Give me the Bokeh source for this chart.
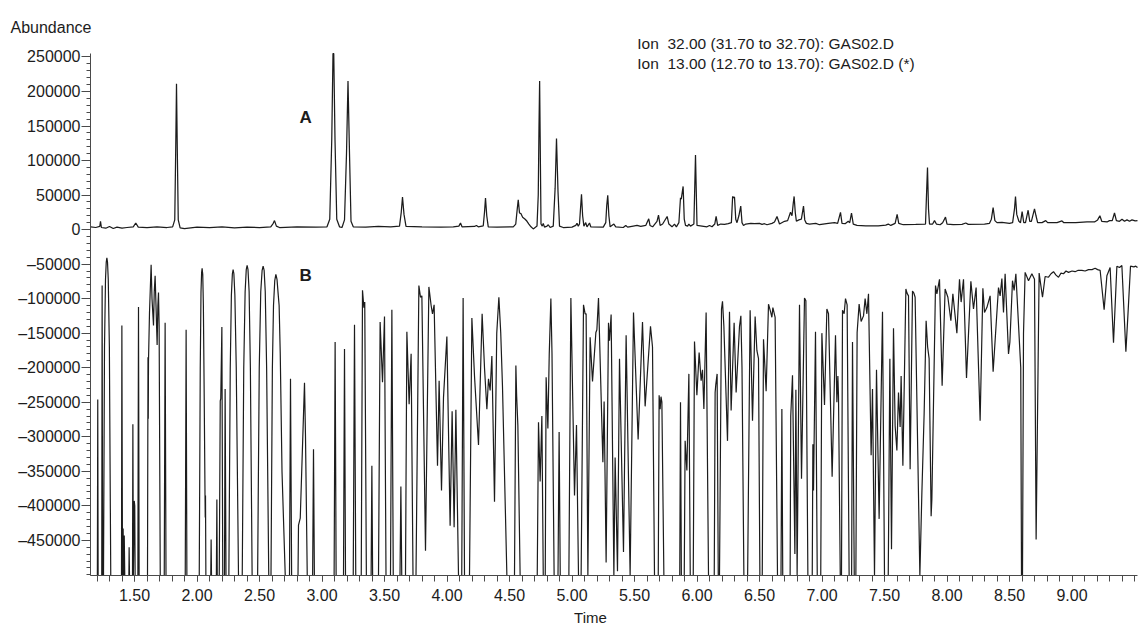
from bokeh.plotting import figure
from bokeh.models import Range1d, FixedTicker, CustomJSTickFormatter, PrintfTickFormatter, Label
from bokeh.embed import file_html
from bokeh.resources import INLINE

# ---------------- data ----------------
# Trace A : Ion 32.00, (time [min], abundance)
trace_a = [
    (1.150, 4000), (1.190, 3000), (1.222, 4500), (1.228, 12000), (1.235, 3000),
    (1.270, 2000), (1.300, 4500), (1.330, 1500), (1.360, 3500), (1.400, 2000),
    (1.440, 3000), (1.490, 4000), (1.510, 9500), (1.530, 3500), (1.600, 3000),
    (1.680, 4000), (1.760, 3000), (1.805, 4000), (1.822, 14000), (1.830, 120000),
    (1.836, 211000), (1.842, 120000), (1.850, 14000), (1.865, 2500), (1.900, 1500),
    (2.000, 3500), (2.100, 3000), (2.200, 4000), (2.300, 2500), (2.400, 3500),
    (2.500, 3000), (2.590, 4000), (2.610, 9000), (2.620, 13000), (2.635, 5000),
    (2.660, 3000), (2.800, 4000), (2.950, 3500), (3.040, 4000), (3.062, 15000),
    (3.078, 130000), (3.088, 255000), (3.094, 255000), (3.104, 130000), (3.118, 15000),
    (3.140, 4000), (3.160, 3000), (3.180, 14000), (3.196, 110000), (3.208, 215000),
    (3.220, 110000), (3.232, 12000), (3.250, 4000), (3.350, 3500), (3.450, 4500),
    (3.550, 4000), (3.620, 5000), (3.634, 25000), (3.644, 47000), (3.656, 22000),
    (3.672, 4500), (3.800, 4000), (3.950, 3500), (4.050, 4000), (4.095, 5000),
    (4.108, 9500), (4.120, 4000), (4.220, 4500), (4.235, 6000), (4.250, 4000),
    (4.290, 5500), (4.300, 25000), (4.308, 45500), (4.318, 20000), (4.330, 4000),
    (4.400, 3500), (4.530, 4000), (4.550, 8000), (4.562, 30000), (4.570, 43000),
    (4.580, 24000), (4.592, 23000), (4.605, 18000), (4.625, 15000), (4.640, 12000),
    (4.655, 8000), (4.672, 4000), (4.690, 1000), (4.720, 5000), (4.730, 50000),
    (4.736, 150000), (4.741, 215000), (4.747, 100000), (4.752, 8000), (4.762, 5000),
    (4.770, 9000), (4.780, 3500), (4.800, 5000), (4.810, 7000), (4.825, 3000),
    (4.850, 5000), (4.865, 60000), (4.876, 132000), (4.888, 55000), (4.900, 5000),
    (4.930, 3000), (5.000, 3500), (5.030, 6000), (5.040, 9000), (5.050, 5000),
    (5.060, 8000), (5.068, 30000), (5.076, 51000), (5.085, 20000), (5.095, 5000),
    (5.110, 10000), (5.120, 4000), (5.140, 9500), (5.150, 4000), (5.250, 3500),
    (5.270, 10000), (5.278, 35000), (5.286, 49500), (5.295, 20000), (5.305, 4000),
    (5.335, 8000), (5.350, 4000), (5.410, 3000), (5.430, 6000), (5.445, 3500),
    (5.490, 5000), (5.520, 6000), (5.550, 4500), (5.590, 6000), (5.605, 12000),
    (5.614, 15500), (5.624, 6000), (5.645, 4000), (5.680, 12000), (5.692, 21000),
    (5.705, 6000), (5.725, 8000), (5.748, 15000), (5.761, 19000), (5.775, 8000),
    (5.800, 4000), (5.820, 8000), (5.835, 4000), (5.855, 10000), (5.868, 46000),
    (5.874, 44000), (5.889, 62500), (5.898, 15000), (5.908, 6000), (5.925, 5000),
    (5.935, 8000), (5.948, 5000), (5.975, 8000), (5.988, 108000), (6.000, 6000),
    (6.040, 5000), (6.080, 4000), (6.100, 6000), (6.120, 4000), (6.142, 8000),
    (6.153, 19000), (6.165, 6000), (6.190, 8000), (6.220, 7500), (6.250, 8500),
    (6.275, 10000), (6.285, 48000), (6.292, 46000), (6.300, 47000), (6.310, 15000),
    (6.320, 10000), (6.335, 20000), (6.350, 34000), (6.360, 10000), (6.372, 6000),
    (6.390, 8000), (6.430, 9000), (6.460, 8500), (6.500, 9000), (6.520, 7500),
    (6.540, 8500), (6.560, 7000), (6.600, 9000), (6.620, 11000), (6.640, 19000),
    (6.660, 8000), (6.700, 12000), (6.725, 13000), (6.748, 25000), (6.760, 20000),
    (6.770, 38000), (6.777, 48000), (6.786, 25000), (6.795, 12000), (6.815, 14000),
    (6.835, 15000), (6.852, 34000), (6.862, 14000), (6.875, 9000), (6.900, 8000),
    (6.950, 9000), (6.980, 7000), (7.050, 9000), (7.100, 10000), (7.125, 9000),
    (7.148, 25000), (7.160, 9000), (7.185, 8500), (7.210, 12000), (7.222, 10000),
    (7.236, 24000), (7.250, 8000), (7.280, 6000), (7.350, 5500), (7.450, 5500),
    (7.510, 6500), (7.530, 8000), (7.550, 6000), (7.585, 9000), (7.601, 22000),
    (7.614, 9000), (7.650, 7000), (7.750, 7500), (7.828, 8000), (7.838, 60000),
    (7.844, 90000), (7.852, 30000), (7.860, 8000), (7.885, 8000), (7.900, 13000),
    (7.915, 8000), (7.945, 7000), (7.965, 10000), (7.988, 18000), (8.000, 8000),
    (8.050, 7000), (8.120, 7500), (8.150, 9500), (8.170, 7500), (8.300, 8000),
    (8.340, 9000), (8.355, 15000), (8.369, 32000), (8.383, 13000), (8.400, 10000),
    (8.440, 10500), (8.500, 9000), (8.525, 10000), (8.540, 30000), (8.548, 48000),
    (8.558, 22000), (8.575, 12000), (8.588, 10000), (8.601, 26000), (8.614, 10000),
    (8.628, 10000), (8.649, 28000), (8.662, 12000), (8.675, 12000), (8.700, 30000),
    (8.712, 20000), (8.725, 10000), (8.760, 10000), (8.790, 13000), (8.805, 10000),
    (8.880, 10000), (8.920, 12500), (8.935, 10000), (9.030, 10000), (9.120, 11000),
    (9.180, 11000), (9.205, 14000), (9.223, 20000), (9.238, 12000), (9.280, 11000),
    (9.300, 13000), (9.322, 13000), (9.340, 24000), (9.355, 13000), (9.380, 12000),
    (9.400, 15000), (9.420, 12000), (9.440, 14000), (9.460, 12000), (9.480, 14000),
    (9.505, 12500), (9.524, 13000),
]

# Trace B : Ion 13.00 (*), (time [min], abundance); -501000 = off the bottom of the scale
trace_b = [
    (1.150, -501000), (1.203, -501000), (1.206, -246000), (1.209, -501000),
    (1.238, -501000), (1.241, -81000), (1.245, -501000), (1.252, -501000),
    (1.260, -170000), (1.268, -72000), (1.274, -47000), (1.279, -41000),
    (1.284, -47000), (1.290, -72000), (1.299, -170000), (1.310, -501000),
    (1.396, -501000), (1.399, -139000), (1.404, -501000), (1.409, -433000),
    (1.413, -501000), (1.418, -443000), (1.422, -501000), (1.455, -501000),
    (1.457, -460000), (1.460, -501000), (1.484, -501000), (1.487, -282000),
    (1.491, -501000), (1.498, -393000), (1.502, -400000), (1.505, -501000),
    (1.527, -501000), (1.532, -112000), (1.537, -501000), (1.604, -501000),
    (1.608, -185000), (1.610, -274000), (1.612, -190000), (1.620, -120000),
    (1.633, -51000), (1.640, -100000), (1.652, -139000), (1.658, -90000),
    (1.665, -67000), (1.672, -110000), (1.681, -167000), (1.687, -110000),
    (1.692, -91000), (1.697, -140000), (1.706, -501000), (1.738, -501000),
    (1.745, -135000), (1.752, -501000), (1.906, -501000), (1.913, -145000),
    (1.919, -501000), (2.018, -501000), (2.026, -200000), (2.032, -90000),
    (2.037, -62000), (2.041, -56000), (2.046, -65000), (2.051, -110000),
    (2.058, -250000), (2.064, -383000), (2.066, -417000), (2.068, -385000),
    (2.071, -501000), (2.110, -501000), (2.113, -449000), (2.116, -501000),
    (2.155, -501000), (2.159, -391000), (2.162, -501000), (2.178, -501000),
    (2.186, -248000), (2.190, -245000), (2.199, -141000), (2.206, -501000),
    (2.220, -501000), (2.225, -231000), (2.232, -501000), (2.255, -501000),
    (2.266, -200000), (2.275, -95000), (2.283, -64000), (2.289, -58000),
    (2.295, -64000), (2.303, -95000), (2.314, -200000), (2.332, -501000),
    (2.362, -501000), (2.374, -200000), (2.385, -90000), (2.394, -58000),
    (2.401, -52000), (2.408, -58000), (2.417, -90000), (2.427, -200000),
    (2.441, -501000), (2.485, -501000), (2.498, -200000), (2.510, -90000),
    (2.521, -59000), (2.529, -53000), (2.537, -59000), (2.546, -90000),
    (2.557, -200000), (2.574, -501000), (2.592, -501000), (2.603, -200000),
    (2.612, -110000), (2.622, -74000), (2.631, -65000), (2.640, -72000),
    (2.650, -95000), (2.657, -110000), (2.666, -180000), (2.680, -350000),
    (2.706, -501000), (2.740, -501000), (2.748, -216000), (2.757, -501000),
    (2.808, -501000), (2.812, -428000), (2.826, -418000), (2.860, -222000),
    (2.868, -300000), (2.882, -501000), (2.925, -501000), (2.932, -318000),
    (2.939, -501000), (3.097, -501000), (3.105, -163000), (3.113, -501000),
    (3.172, -501000), (3.180, -173000), (3.188, -501000), (3.250, -501000),
    (3.260, -138000), (3.270, -501000), (3.314, -501000), (3.324, -88000),
    (3.335, -113000), (3.342, -105000), (3.355, -501000), (3.393, -501000),
    (3.399, -342000), (3.405, -501000), (3.452, -501000), (3.465, -134000),
    (3.484, -221000), (3.500, -126000), (3.512, -501000), (3.548, -501000),
    (3.559, -116000), (3.570, -501000), (3.624, -501000), (3.631, -372000),
    (3.638, -501000), (3.668, -501000), (3.679, -148000), (3.697, -253000),
    (3.713, -180000), (3.728, -501000), (3.752, -501000), (3.775, -81000),
    (3.788, -98000), (3.799, -96000), (3.828, -465000), (3.855, -83000),
    (3.873, -110000), (3.884, -122000), (3.897, -109000), (3.924, -342000),
    (3.937, -219000), (3.956, -378000), (3.972, -243000), (3.999, -155000),
    (4.025, -429000), (4.041, -263000), (4.057, -431000), (4.071, -261000),
    (4.092, -501000), (4.118, -501000), (4.129, -99000), (4.140, -501000),
    (4.180, -501000), (4.199, -128000), (4.220, -212000), (4.252, -312000),
    (4.281, -122000), (4.300, -200000), (4.319, -260000), (4.332, -216000),
    (4.345, -233000), (4.359, -183000), (4.380, -394000), (4.398, -150000),
    (4.415, -98000), (4.430, -150000), (4.444, -228000), (4.479, -501000),
    (4.540, -501000), (4.551, -197000), (4.557, -240000), (4.567, -284000),
    (4.585, -501000), (4.722, -501000), (4.732, -279000), (4.745, -365000),
    (4.759, -270000), (4.770, -501000), (4.786, -501000), (4.793, -214000),
    (4.807, -288000), (4.818, -180000), (4.831, -100000), (4.840, -180000),
    (4.857, -501000), (4.888, -501000), (4.897, -293000), (4.906, -501000),
    (4.975, -501000), (4.991, -99000), (5.020, -385000), (5.036, -283000),
    (5.052, -501000), (5.073, -501000), (5.092, -109000), (5.105, -122000),
    (5.113, -122000), (5.127, -501000), (5.145, -156000), (5.164, -220000),
    (5.191, -149000), (5.199, -145000), (5.212, -99000), (5.247, -337000),
    (5.257, -249000), (5.273, -482000), (5.292, -135000), (5.300, -161000),
    (5.313, -123000), (5.335, -501000), (5.345, -330000), (5.364, -495000),
    (5.380, -187000), (5.412, -467000), (5.433, -153000), (5.465, -501000),
    (5.492, -120000), (5.529, -304000), (5.564, -134000), (5.585, -256000),
    (5.628, -140000), (5.644, -170000), (5.660, -501000), (5.690, -501000),
    (5.697, -240000), (5.705, -260000), (5.712, -242000), (5.719, -250000),
    (5.735, -501000), (5.862, -501000), (5.868, -250000), (5.875, -501000),
    (5.898, -501000), (5.905, -306000), (5.919, -349000), (5.935, -209000),
    (5.946, -501000), (5.970, -501000), (5.980, -162000), (5.999, -240000),
    (6.017, -178000), (6.033, -219000), (6.044, -203000), (6.055, -260000),
    (6.073, -120000), (6.092, -501000), (6.138, -501000), (6.145, -236000),
    (6.150, -225000), (6.161, -209000), (6.170, -501000), (6.180, -501000),
    (6.196, -115000), (6.204, -104000), (6.215, -140000), (6.244, -306000),
    (6.260, -119000), (6.273, -262000), (6.297, -135000), (6.313, -236000),
    (6.340, -140000), (6.351, -125000), (6.360, -200000), (6.375, -501000),
    (6.405, -501000), (6.425, -117000), (6.444, -277000), (6.465, -126000),
    (6.479, -175000), (6.492, -187000), (6.503, -501000), (6.522, -501000),
    (6.532, -159000), (6.553, -234000), (6.572, -108000), (6.590, -120000),
    (6.599, -127000), (6.607, -113000), (6.625, -127000), (6.644, -501000),
    (6.672, -501000), (6.679, -260000), (6.686, -501000), (6.745, -501000),
    (6.750, -270000), (6.764, -211000), (6.783, -470000), (6.791, -232000),
    (6.801, -501000), (6.820, -109000), (6.836, -361000), (6.860, -99000),
    (6.871, -103000), (6.887, -501000), (6.922, -501000), (6.927, -311000),
    (6.932, -378000), (6.948, -148000), (6.962, -501000), (6.990, -501000),
    (6.999, -150000), (7.020, -254000), (7.039, -115000), (7.052, -122000),
    (7.081, -358000), (7.108, -153000), (7.119, -250000), (7.127, -212000),
    (7.132, -241000), (7.146, -501000), (7.156, -501000), (7.164, -117000),
    (7.177, -122000), (7.188, -100000), (7.201, -109000), (7.217, -501000),
    (7.237, -501000), (7.244, -163000), (7.258, -501000), (7.271, -501000),
    (7.281, -149000), (7.297, -108000), (7.313, -133000), (7.332, -125000),
    (7.345, -100000), (7.359, -122000), (7.372, -93000), (7.393, -327000),
    (7.404, -231000), (7.420, -501000), (7.436, -203000), (7.457, -419000),
    (7.484, -119000), (7.500, -501000), (7.530, -501000), (7.543, -187000),
    (7.556, -463000), (7.572, -143000), (7.585, -284000), (7.599, -320000),
    (7.612, -236000), (7.625, -286000), (7.633, -212000), (7.647, -342000),
    (7.671, -86000), (7.680, -92000), (7.692, -96000), (7.705, -347000),
    (7.724, -89000), (7.735, -92000), (7.745, -98000), (7.783, -501000),
    (7.799, -381000), (7.817, -267000), (7.833, -132000), (7.845, -170000),
    (7.857, -187000), (7.873, -415000), (7.879, -390000), (7.908, -81000),
    (7.919, -93000), (7.940, -72000), (7.961, -226000), (7.985, -86000),
    (8.007, -98000), (8.031, -132000), (8.047, -93000), (8.079, -150000),
    (8.100, -72000), (8.113, -105000), (8.132, -72000), (8.156, -215000),
    (8.191, -75000), (8.212, -115000), (8.233, -84000), (8.265, -277000),
    (8.287, -85000), (8.300, -120000), (8.319, -113000), (8.345, -96000),
    (8.369, -206000), (8.412, -84000), (8.425, -96000), (8.439, -71000),
    (8.452, -120000), (8.465, -64000), (8.492, -180000), (8.503, -163000),
    (8.524, -74000), (8.537, -88000), (8.551, -64000), (8.590, -200000),
    (8.596, -501000), (8.604, -501000), (8.612, -150000), (8.625, -62000),
    (8.652, -74000), (8.679, -64000), (8.700, -72000), (8.713, -449000),
    (8.737, -63000), (8.764, -98000), (8.785, -68000), (8.812, -69000),
    (8.832, -64000), (8.852, -61000), (8.872, -66000), (8.892, -69000),
    (8.912, -63000), (8.932, -64000), (8.952, -60000), (8.972, -62000),
    (9.000, -60000), (9.025, -61000), (9.050, -59000), (9.079, -59000),
    (9.105, -60000), (9.132, -58000), (9.160, -58000), (9.185, -56000),
    (9.205, -58000), (9.225, -59000), (9.257, -116000), (9.279, -67000),
    (9.305, -55000), (9.332, -164000), (9.359, -53000), (9.380, -55000),
    (9.399, -52000), (9.431, -177000), (9.447, -125000), (9.468, -53000),
    (9.495, -54000), (9.510, -53000), (9.524, -55000),
]

time_a = [t for t, _ in trace_a]
abund_a = [v for _, v in trace_a]
time_b = [t for t, _ in trace_b]
abund_b = [v for _, v in trace_b]

x_major_ticks = [1.5, 2.0, 2.5, 3.0, 3.5, 4.0, 4.5, 5.0, 5.5, 6.0, 6.5, 7.0, 7.5, 8.0, 8.5, 9.0]
x_minor_ticks = [round(1.2 + 0.1 * i, 1) for i in range(84)]
y_major_ticks = [250000, 200000, 150000, 100000, 50000, 0, -50000, -100000, -150000,
                 -200000, -250000, -300000, -350000, -400000, -450000]
y_minor_ticks = [250000 - 10000 * i for i in range(76)]

header_lines = ["Ion\u00a0 32.00 (31.70 to 32.70): GAS02.D",
                "Ion\u00a0 13.00 (12.70 to 13.70): GAS02.D (*)"]

FONT = "Liberation Sans"
INK = "#1c1c1c"
AXIS = "#4a4a4a"

X_START, X_END = 1.148, 9.524      # extent of the time axis
Y_BOTTOM, Y_TOP = -501000, 255000  # extent of the abundance axis

p = figure(width=1139, height=629, output_backend="svg", toolbar_location=None,
           x_range=Range1d(0.428, 9.540), y_range=Range1d(-579200, 331760),
           min_border=0, min_border_left=0, min_border_right=0,
           min_border_top=0, min_border_bottom=0,
           background_fill_color="white", border_fill_color="white")
p.outline_line_color = None
p.grid.visible = False

p.line(time_a, abund_a, line_color=INK, line_width=1.25)
p.line(time_b, abund_b, line_color=INK, line_width=1.2)

# x axis
xa = p.xaxis[0]
xa.fixed_location = Y_BOTTOM
xa.bounds = (X_START, X_END)
xa.ticker = FixedTicker(ticks=x_major_ticks, minor_ticks=x_minor_ticks)
xa.formatter = PrintfTickFormatter(format="%.2f")
xa.major_tick_out = 6
xa.major_tick_in = 0
xa.minor_tick_out = 6
xa.minor_tick_in = 0
xa.major_label_standoff = 7
xa.major_label_text_font = FONT
xa.major_label_text_font_size = "16px"
xa.major_label_text_color = INK
xa.axis_line_color = AXIS
xa.major_tick_line_color = AXIS
xa.minor_tick_line_color = AXIS

# y axis
ya = p.yaxis[0]
ya.fixed_location = X_START
ya.bounds = (Y_BOTTOM, Y_TOP)
ya.ticker = FixedTicker(ticks=y_major_ticks, minor_ticks=y_minor_ticks)
ya.formatter = CustomJSTickFormatter(
    code="return tick < 0 ? '\\u2013' + Math.abs(tick).toFixed(0) : tick.toFixed(0);")
ya.major_tick_out = 9
ya.major_tick_in = 0
ya.minor_tick_out = 4
ya.minor_tick_in = 0
ya.major_label_standoff = 1
ya.major_label_text_font = FONT
ya.major_label_text_font_size = "16px"
ya.major_label_text_color = INK
ya.axis_line_color = AXIS
ya.major_tick_line_color = AXIS
ya.minor_tick_line_color = AXIS

# texts
p.add_layout(Label(x=0.508, y=293000, text="Abundance", text_font=FONT,
                   text_font_size="16px", text_color=INK, text_baseline="alphabetic"))
p.add_layout(Label(x=5.522, y=270000, text=header_lines[0], text_font=FONT,
                   text_font_size="15.5px", text_color=INK, text_baseline="alphabetic"))
p.add_layout(Label(x=5.522, y=240000, text=header_lines[1], text_font=FONT,
                   text_font_size="15.5px", text_color=INK, text_baseline="alphabetic"))
p.add_layout(Label(x=2.82, y=162400, text="A", text_font=FONT, text_font_style="bold",
                   text_font_size="17px", text_color=INK, text_baseline="alphabetic"))
p.add_layout(Label(x=2.82, y=-66500, text="B", text_font=FONT, text_font_style="bold",
                   text_font_size="17px", text_color=INK, text_baseline="alphabetic"))
p.add_layout(Label(x=5.148, y=-562000, text="Time", text_font=FONT,
                   text_font_size="15px", text_color=INK, text_align="center",
                   text_baseline="alphabetic"))

with open("out.html", "w", encoding="utf-8") as f:
    f.write(file_html(p, INLINE))
